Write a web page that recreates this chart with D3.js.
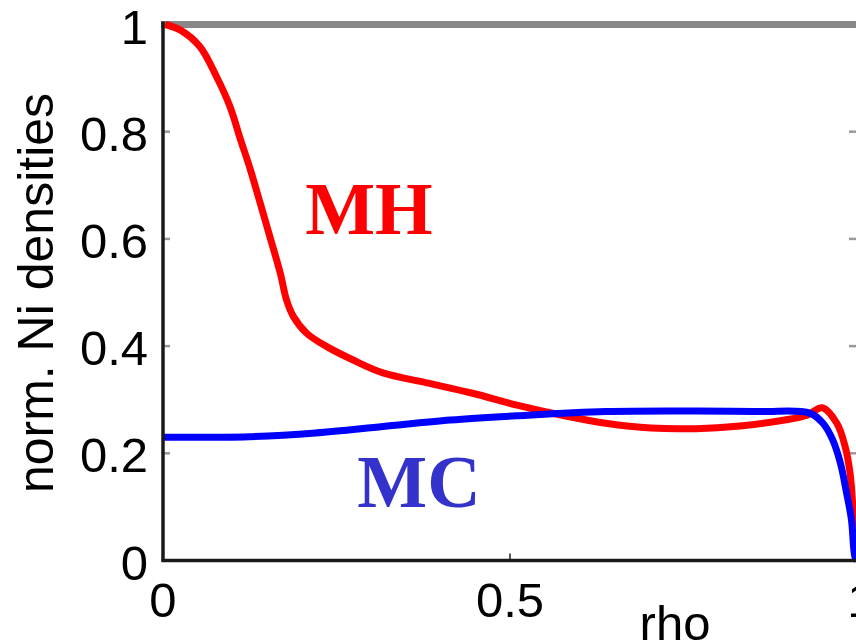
<!DOCTYPE html>
<html>
<head>
<meta charset="utf-8">
<script src="https://cdn.jsdelivr.net/npm/d3@7/dist/d3.min.js"></script>
<style>
  html, body { margin: 0; padding: 0; background: #fff; }
  svg { display: block; }
</style>
</head>
<body>
<svg id="chart" width="856" height="642"></svg>
<script>
// ---- data ----
const yTicks = [0, 0.2, 0.4, 0.6, 0.8, 1];
const yTickLabels = ["0", "0.2", "0.4", "0.6", "0.8", "1"];
const xTicks = [0, 0.5, 1];
const xTickLabels = ["0", "0.5", "1"];

const mhRho = [0.003, 0.0245, 0.053, 0.077, 0.0965, 0.111, 0.125, 0.140, 0.154, 0.169, 0.178, 0.188, 0.207, 0.236, 0.274, 0.317, 0.382, 0.446, 0.510, 0.575, 0.638, 0.703, 0.768, 0.831, 0.896, 0.928, 0.950, 0.971, 0.983, 0.990, 0.994, 0.997, 1.0];
const mhVal = [1.0, 0.99, 0.959, 0.903, 0.847, 0.788, 0.733, 0.667, 0.604, 0.536, 0.486, 0.455, 0.424, 0.399, 0.374, 0.350, 0.331, 0.312, 0.290, 0.271, 0.256, 0.247, 0.246, 0.251, 0.262, 0.271, 0.285, 0.256, 0.212, 0.163, 0.100, 0.038, 0.0];

const mcRho = [0.0, 0.124, 0.220, 0.317, 0.414, 0.510, 0.638, 0.768, 0.860, 0.932, 0.951, 0.965, 0.976, 0.985, 0.992, 0.997, 1.0];
const mcVal = [0.230, 0.231, 0.238, 0.250, 0.262, 0.270, 0.278, 0.279, 0.278, 0.275, 0.256, 0.225, 0.182, 0.126, 0.076, 0.007, 0.0];

const labels = [
  { text: "MH", rho: 0.205, val: 0.61, color: "#ff0000" },
  { text: "MC", rho: 0.28, val: 0.1, color: "#3333cc" }
];

// ---- chart ----
const svg = d3.select("#chart");
const x = d3.scaleLinear().domain([0, 1]).range([163, 857]);
const y = d3.scaleLinear().domain([0, 1]).range([560.5, 24.5]);

const font = "'Liberation Sans', Arial, Helvetica, sans-serif";

// top border (grey)
svg.append("line")
  .attr("x1", x(0) - 2).attr("x2", 856)
  .attr("y1", y(1)).attr("y2", y(1))
  .attr("stroke", "#888888").attr("stroke-width", 7);

// inner ticks left and right
const tickG = svg.append("g");
yTicks.filter(d => d > 0 && d < 1).forEach(d => {
  tickG.append("line")
    .attr("x1", x(0)).attr("x2", x(0) + 7)
    .attr("y1", y(d)).attr("y2", y(d))
    .attr("stroke", "#999").attr("stroke-width", 2.5);
  tickG.append("line")
    .attr("x1", 849).attr("x2", 856)
    .attr("y1", y(d)).attr("y2", y(d))
    .attr("stroke", "#999").attr("stroke-width", 2.5);
});
xTicks.filter(d => d > 0 && d < 1).forEach(d => {
  tickG.append("line")
    .attr("x1", x(d)).attr("x2", x(d))
    .attr("y1", y(0)).attr("y2", y(0) - 7)
    .attr("stroke", "#555").attr("stroke-width", 2);
});

// curves
const line = d3.line()
  .x(d => x(d[0]))
  .y(d => y(d[1]))
  .curve(d3.curveCatmullRom.alpha(0.5));

const mhData = mhRho.map((r, i) => [r, mhVal[i]]);
const mcData = mcRho.map((r, i) => [r, mcVal[i]]);

svg.append("path")
  .datum(mhData)
  .attr("d", line)
  .attr("fill", "none")
  .attr("stroke", "#ff0000")
  .attr("stroke-width", 7)
  .attr("stroke-linejoin", "round");

svg.append("path")
  .datum(mcData)
  .attr("d", line)
  .attr("fill", "none")
  .attr("stroke", "#0000ff")
  .attr("stroke-width", 7)
  .attr("stroke-linejoin", "round");

// axes lines (black)
svg.append("line")
  .attr("x1", x(0)).attr("x2", x(0))
  .attr("y1", y(1) - 3).attr("y2", y(0) + 1)
  .attr("stroke", "#1a1a1a").attr("stroke-width", 3.5);
svg.append("line")
  .attr("x1", x(0) - 1.5).attr("x2", 856)
  .attr("y1", y(0)).attr("y2", y(0))
  .attr("stroke", "#1a1a1a").attr("stroke-width", 3.5);

// y tick labels
svg.append("g").selectAll("text")
  .data(yTicks)
  .join("text")
  .attr("x", 148)
  .attr("y", d => y(d) + 19)
  .attr("text-anchor", "end")
  .attr("font-family", font)
  .attr("font-size", 49)
  .attr("fill", "#000")
  .text((d, i) => yTickLabels[i]);

// x tick labels
svg.append("g").selectAll("text")
  .data(xTicks)
  .join("text")
  .attr("x", d => x(d) + (d === 1 ? 4 : 0))
  .attr("y", 617)
  .attr("text-anchor", "middle")
  .attr("font-family", font)
  .attr("font-size", 49)
  .attr("fill", "#000")
  .text((d, i) => xTickLabels[i]);

// axis titles
svg.append("text")
  .attr("x", 675)
  .attr("y", 640)
  .attr("text-anchor", "middle")
  .attr("font-family", font)
  .attr("font-size", 49)
  .attr("fill", "#000")
  .text("rho");

svg.append("text")
  .attr("transform", "translate(53,293) rotate(-90)")
  .attr("text-anchor", "middle")
  .attr("font-family", font)
  .attr("font-size", 50)
  .attr("fill", "#000")
  .text("norm. Ni densities");

// series labels
svg.append("g").selectAll("text")
  .data(labels)
  .join("text")
  .attr("x", d => x(d.rho))
  .attr("y", d => y(d.val))
  .attr("font-family", "'Liberation Serif', 'Times New Roman', serif")
  .attr("font-weight", "bold")
  .attr("font-size", 74)
  .attr("fill", d => d.color)
  .text(d => d.text);
</script>
</body>
</html>
